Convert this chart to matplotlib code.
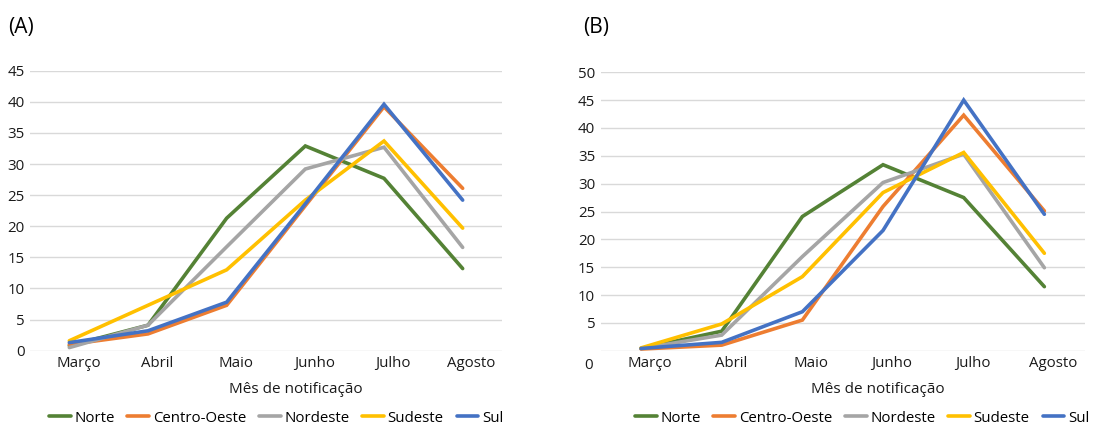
import matplotlib.pyplot as plt
import matplotlib.transforms as mtransforms

plt.rcParams['font.family'] = ['Open Sans', 'DejaVu Sans']

meses = ['Março', 'Abril', 'Maio', 'Junho', 'Julho', 'Agosto']
regioes = ['Norte', 'Centro-Oeste', 'Nordeste', 'Sudeste', 'Sul']
cores = ['#548235', '#ED7D31', '#A5A5A5', '#FFC000', '#4472C4']

# (A)
norte_a = [0.8, 4.1, 21.3, 32.9, 27.7, 13.2]
centro_a = [1.0, 2.7, 7.3, 23.3, 39.2, 26.1]
nordeste_a = [0.5, 4.1, 16.7, 29.2, 32.7, 16.6]
sudeste_a = [1.6, 7.3, 13.0, 24.2, 33.7, 19.7]
sul_a = [1.3, 3.2, 7.8, 23.6, 39.6, 24.2]

# (B)
norte_b = [0.4, 3.5, 24.1, 33.4, 27.5, 11.5]
centro_b = [0.3, 1.0, 5.5, 25.9, 42.3, 25.1]
nordeste_b = [0.4, 2.8, 16.9, 30.2, 35.3, 14.9]
sudeste_b = [0.5, 4.8, 13.3, 28.4, 35.6, 17.5]
sul_b = [0.4, 1.5, 7.0, 21.6, 45.0, 24.5]

W, H = 1096, 428


def painel(fig, rect, series, ymax, letra, letra_x, leg_x, xlab_x, zero_abaixo):
    ax = fig.add_axes(rect)
    x = range(len(meses))
    for s, nome, c in zip(series, regioes, cores):
        ax.plot(x, s, color=c, lw=2.6, label=nome, solid_capstyle='round',
                solid_joinstyle='miter')
    ax.set_xlim(-0.5, len(meses) - 0.5)
    ax.set_ylim(0, ymax)
    ticks = list(range(0, ymax + 1, 5))
    ax.set_yticks(ticks)
    if zero_abaixo:
        ax.set_yticklabels([''] + [str(t) for t in ticks[1:]])
    ax.set_xticks(list(x))
    ax.set_xticklabels(meses)
    ax.grid(axis='y', color='#D9D9D9', lw=1)
    ax.set_axisbelow(True)
    for sp in ax.spines.values():
        sp.set_visible(False)
    ax.tick_params(length=0, labelsize=10.8, colors='#1a1a1a', pad=4)
    ax.tick_params(axis='x', pad=4)
    # rótulos das categorias um pouco deslocados à direita, como no original
    desloc = mtransforms.ScaledTranslation(9 / 100, 0, fig.dpi_scale_trans)
    for lab in ax.get_xticklabels():
        lab.set_transform(lab.get_transform() + desloc)
    ax.set_xlabel('Mês de notificação', fontsize=11, color='#1a1a1a')
    ax.xaxis.set_label_coords(xlab_x, -0.112)
    ax.xaxis.label.set_va('top')
    if zero_abaixo:
        ax.text(-0.6, -2.6, '0', fontsize=10.8, color='#1a1a1a',
                ha='right', va='center')
    fig.text(letra_x / W, 1 - 27 / H, letra, fontsize=15, va='center', ha='left')
    ax.legend(loc='center', bbox_to_anchor=(leg_x / W, 1 - 418 / H),
              bbox_transform=fig.transFigure, ncol=5, frameon=False,
              fontsize=10.8, handlelength=1.45, handletextpad=0.25,
              columnspacing=0.85, borderaxespad=0)
    return ax


fig = plt.figure(figsize=(W / 100, H / 100), dpi=100)

painel(fig, [30 / W, (H - 350.7) / H, 472 / W, 280 / H],
       [norte_a, centro_a, nordeste_a, sudeste_a, sul_a], 45, '(A)', 8, 276,
       0.564, False)
painel(fig, [600.7 / W, (H - 350.7) / H, 484 / W, 278.4 / H],
       [norte_b, centro_b, nordeste_b, sudeste_b, sul_b], 50, '(B)', 583, 862,
       0.573, True)

fig.savefig('out.png', dpi=100)
